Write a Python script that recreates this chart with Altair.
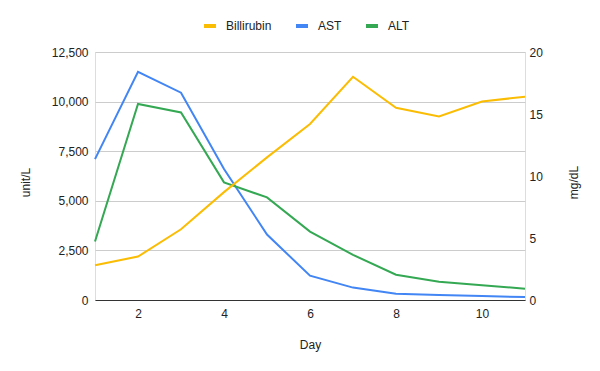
import altair as alt
import pandas as pd

days = [1, 2, 3, 4, 5, 6, 7, 8, 9, 10, 11]
billirubin = [2.8, 3.5, 5.7, 8.7, 11.5, 14.2, 18.0, 15.5, 14.8, 16.0, 16.4]
ast = [7100, 11500, 10450, 6600, 3300, 1225, 625, 320, 250, 200, 150]
alt_vals = [2950, 9880, 9450, 5930, 5170, 3450, 2275, 1275, 925, 740, 570]

series = ["Billirubin", "AST", "ALT"]
colors = ["#fbbc04", "#4285f4", "#34a853"]

left_df = pd.DataFrame(
    {"Day": days * 2, "value": ast + alt_vals, "series": ["AST"] * 11 + ["ALT"] * 11}
)
right_df = pd.DataFrame({"Day": days, "value": billirubin, "series": ["Billirubin"] * 11})

FONT = "Liberation Sans"

color = alt.Color(
    "series:N",
    scale=alt.Scale(domain=series, range=colors),
    sort=series,
    legend=alt.Legend(
        title=None,
        orient="none",
        direction="horizontal",
        legendX=107,
        legendY=-34,
        symbolType="stroke",
        symbolSize=144,
        symbolStrokeWidth=4,
        labelFont=FONT,
        labelFontSize=12,
        labelColor="#222222",
        columnPadding=16,
        labelOffset=8,
        gridAlign="none",
    ),
)

x = alt.X(
    "Day:Q",
    scale=alt.Scale(domain=[1, 11], nice=False, zero=False),
    axis=alt.Axis(
        values=[2, 4, 6, 8, 10],
        title="Day",
        grid=False,
        ticks=False,
        domainColor="#333333",
        domainWidth=1,
        labelFont=FONT,
        labelFontSize=12,
        labelColor="#222222",
        labelPadding=8,
        titleFont=FONT,
        titleFontSize=12,
        titleFontWeight="normal",
        titleColor="#222222",
        titleX=215,
        titleY=44,
        titleBaseline="middle",
    ),
)

left = alt.Chart(left_df).mark_line(strokeWidth=2).encode(
    x=x,
    y=alt.Y(
        "value:Q",
        scale=alt.Scale(domain=[0, 12500], nice=False),
        axis=alt.Axis(
            values=[0, 2500, 5000, 7500, 10000, 12500],
            format=",.0f",
            title="unit/L",
            orient="left",
            domain=False,
            ticks=False,
            gridColor="#cccccc",
            labelFont=FONT,
            labelFontSize=12,
            labelColor="#222222",
            labelPadding=7,
            titleFont=FONT,
            titleFontSize=12,
            titleFontWeight="normal",
            titleColor="#222222",
            titleX=-70,
            titleY=130,
            titleBaseline="middle",
        ),
    ),
    color=color,
)

right = alt.Chart(right_df).mark_line(strokeWidth=2).encode(
    x=x,
    y=alt.Y(
        "value:Q",
        scale=alt.Scale(domain=[0, 20], nice=False),
        axis=alt.Axis(
            values=[0, 5, 10, 15, 20],
            format=".0f",
            title="mg/dL",
            orient="right",
            grid=False,
            domain=False,
            ticks=False,
            labelFont=FONT,
            labelFontSize=12,
            labelColor="#222222",
            labelPadding=4,
            titleFont=FONT,
            titleFontSize=12,
            titleFontWeight="normal",
            titleColor="#222222",
            titleAngle=270,
            titleX=48,
            titleY=130,
            titleBaseline="middle",
        ),
    ),
    color=color,
)

chart = (
    alt.layer(left, right)
    .resolve_scale(y="independent")
    .properties(
        width=430,
        height=248,
        autosize=alt.AutoSizeParams(type="none"),
        padding={"left": 87, "top": 44, "right": 67, "bottom": 63},
    )
    .configure_view(stroke=None)
    .configure(background="white")
)

chart.save("out.html", embed_options={"renderer": "svg", "actions": False})
